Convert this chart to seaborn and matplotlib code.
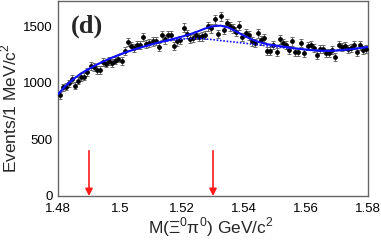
import numpy as np
import pandas as pd
import matplotlib
matplotlib.use("Agg")
import matplotlib.pyplot as plt
import seaborn as sns

# ---- data ----
counts = [890, 962, 966, 997, 1035, 977, 1021, 1053, 1056, 1099,
          1149, 1143, 1114, 1114, 1187, 1172, 1193, 1175, 1198, 1216,
          1195, 1280, 1361, 1324, 1312, 1338, 1338, 1405, 1347, 1355,
          1367, 1373, 1318, 1420, 1385, 1420, 1420, 1326, 1367, 1381,
          1489, 1434, 1390, 1396, 1425, 1405, 1411, 1425, 1501, 1483,
          1565, 1434, 1588, 1472, 1530, 1501, 1483, 1455, 1507, 1405,
          1443, 1420, 1367, 1355, 1440, 1376, 1396, 1280, 1280, 1338,
          1274, 1385, 1355, 1338, 1289, 1367, 1274, 1274, 1355, 1268,
          1324, 1338, 1309, 1251, 1298, 1298, 1268, 1268, 1294, 1230,
          1338, 1318, 1324, 1298, 1309, 1338, 1274, 1332, 1289, 1303]
bin_low = 1.480
bin_width = 0.001

curve_x = [1.4800, 1.4825, 1.4850, 1.4875, 1.4900, 1.4925, 1.4950, 1.4975,
           1.5000, 1.5025, 1.5050, 1.5075, 1.5100, 1.5125, 1.5150, 1.5175,
           1.5200, 1.5225, 1.5250, 1.5275, 1.5300, 1.5325, 1.5350, 1.5375,
           1.5400, 1.5425, 1.5450, 1.5475, 1.5500, 1.5525, 1.5550, 1.5575,
           1.5600, 1.5625, 1.5650, 1.5675, 1.5700, 1.5725, 1.5750, 1.5775,
           1.5800]
total_fit = [900, 975, 1035, 1085, 1125, 1162, 1195, 1225,
             1252, 1277, 1300, 1320, 1340, 1358, 1375, 1392,
             1410, 1430, 1455, 1482, 1502, 1507, 1490, 1455,
             1418, 1385, 1360, 1343, 1332, 1322, 1312, 1303,
             1295, 1289, 1285, 1284, 1287, 1293, 1300, 1309,
             1318]
background = [900, 975, 1035, 1085, 1125, 1162, 1195, 1225,
              1252, 1277, 1300, 1320, 1340, 1356, 1370, 1380,
              1388, 1393, 1394, 1390, 1383, 1375, 1367, 1360,
              1352, 1344, 1336, 1328, 1320, 1312, 1305, 1300,
              1295, 1289, 1285, 1284, 1287, 1293, 1300, 1309,
              1318]

cut_edges = [1.49, 1.53]
arrow_top = 400

panel_label = "(d)"
xlabel = "M(Ξ$^{0}$π$^{0}$) GeV/c$^{2}$"
ylabel = "Events/1 MeV/c$^{2}$"
xticks = [1.48, 1.50, 1.52, 1.54, 1.56, 1.58]
xticklabels = ["1.48", "1.5", "1.52", "1.54", "1.56", "1.58"]
yticks = [0, 500, 1000, 1500]

# ---- build frames ----
centers = [bin_low + bin_width * (i + 0.5) for i in range(len(counts))]
pts = pd.DataFrame({"x": centers, "y": counts})
pts["err"] = np.sqrt(pts["y"])
curves = pd.DataFrame({"x": curve_x, "total": total_fit, "bkg": background})

sns.set_theme(style="white")
plt.rcParams["font.family"] = ["Liberation Sans", "DejaVu Sans"]
plt.rcParams["mathtext.fontset"] = "custom"
plt.rcParams["mathtext.rm"] = "Liberation Sans"

fig = plt.figure(figsize=(3.81, 2.40), dpi=100)
ax = fig.add_axes([58 / 381, 44 / 240, 310 / 381, 195 / 240])

frame_col = "#666666"

ax.errorbar(pts["x"], pts["y"], yerr=pts["err"], fmt="none",
            ecolor="#555555", elinewidth=0.6, capsize=1.4, capthick=0.6, zorder=2)
sns.scatterplot(data=pts, x="x", y="y", ax=ax, color="black", s=12,
                edgecolor="black", linewidth=0, zorder=3, legend=False)
sns.lineplot(data=curves, x="x", y="bkg", ax=ax, color="#1010ff",
             linestyle=(0, (1, 1)), linewidth=1.2, zorder=4)
sns.lineplot(data=curves, x="x", y="total", ax=ax, color="#1010ff",
             linewidth=1.5, zorder=5)

for xc in cut_edges:
    ax.annotate("", xy=(xc, 0), xytext=(xc, arrow_top),
                arrowprops=dict(arrowstyle="-|>,head_width=0.18,head_length=0.35",
                                color="#ff1a1a", lw=1.2, shrinkA=0, shrinkB=0),
                zorder=6)

ax.set_xlim(1.48, 1.58)
ax.set_ylim(0, 1725)
ax.set_xticks(xticks)
ax.set_xticklabels(xticklabels)
ax.set_yticks(yticks)
ax.set_xticks(np.arange(1.48, 1.5801, 0.005), minor=True)
ax.set_yticks(np.arange(0, 1701, 100), minor=True)

ax.tick_params(axis="both", which="major", direction="in", length=6.5,
               width=0.8, color=frame_col, labelsize=9.5, labelcolor="black",
               top=False, right=False)
ax.tick_params(axis="both", which="minor", direction="in", length=3.2,
               width=0.8, color=frame_col, top=False, right=False)
ax.tick_params(axis="x", which="major", pad=5)
ax.tick_params(axis="y", which="major", pad=4)

for sp in ax.spines.values():
    sp.set_color(frame_col)
    sp.set_linewidth(1.0)

ax.set_xlabel(xlabel, fontsize=12.5)
ax.xaxis.set_label_coords(0.494, -0.1)
ax.set_ylabel(ylabel, fontsize=12.5)
ax.yaxis.set_label_coords(-0.125, 0.45)

ax.text(0.04, 0.87, panel_label, transform=ax.transAxes,
        fontfamily="Liberation Serif", fontweight="bold", fontsize=19,
        ha="left", va="center")

fig.savefig("out.png", dpi=100)
